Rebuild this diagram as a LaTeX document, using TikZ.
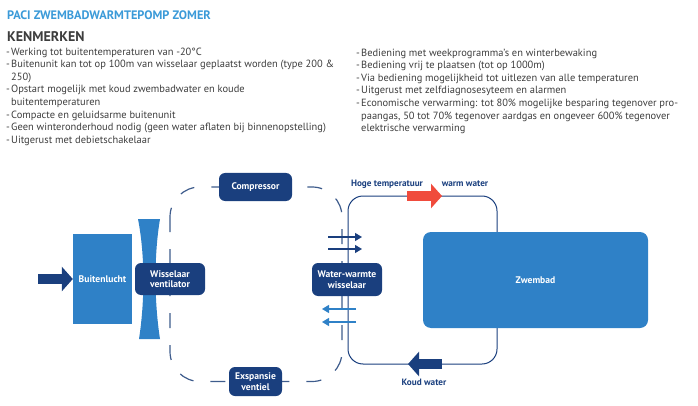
\documentclass[tikz,border=0pt]{standalone}
\usepackage{fontspec}
\setmainfont{PT Sans}
\usetikzlibrary{arrows.meta,positioning,calc,backgrounds}
\definecolor{pacinavy}{HTML}{1A3F7E}
\definecolor{paciblue}{HTML}{2F81C7}
\definecolor{pacilight}{HTML}{3B9AD8}
\definecolor{pacired}{HTML}{F04B3C}
\definecolor{pacigray}{HTML}{3D3D3D}
\definecolor{paciline}{HTML}{3E5C8C}
\newcommand{\itm}{\makebox[5pt][l]{-}}
\newcommand{\cnt}{\hspace*{5pt}}

\begin{document}
\begin{tikzpicture}[x=1pt,y=-1pt,
    unit/.style={fill=pacinavy,text=white,rounded corners=6pt,align=center,inner sep=0pt,font=\bfseries\fontsize{9.6}{10.5}\selectfont},
    pool/.style={fill=paciblue,text=white,inner sep=0pt,font=\bfseries\fontsize{9.6}{10.5}\selectfont},
    lbl/.style={text=pacinavy,inner sep=0pt,font=\bfseries\fontsize{9.2}{10}\selectfont},
    bullets/.style={text=pacigray,align=left,inner sep=0pt,anchor=north west,font=\fontsize{10.45}{12.6}\selectfont},
    koel/.style={paciline,line width=1.2pt,dash pattern=on 15pt off 17pt,rounded corners=30pt},
    water/.style={pacinavy,line width=1pt,rounded corners=15pt},
    flow/.style={line width=9.5pt,-{Triangle[length=11pt,width=24pt]}},
    pijl/.style={line width=1.4pt,-{Triangle[length=7pt,width=8pt]}}]
  \useasboundingbox (0,0) rectangle (698,406);

  \node[anchor=base west,inner sep=0pt,text=pacilight,font=\bfseries\fontsize{12.3}{14}\selectfont] (titel) at (7,20) {PACI ZWEMBADWARMTEPOMP ZOMER};
  \node[anchor=base west,inner sep=0pt,text=pacigray,font=\bfseries\fontsize{14}{16}\selectfont] (kenm) at (7,41.5) {KENMERKEN};

  \node[bullets] (links) at (6,47.5) {%
    \itm Werking tot buitentemperaturen van -20°C\\
    \itm Buitenunit kan tot op 100m van wisselaar geplaatst worden (type 200 \&\\
    \cnt 250)\\
    \itm Opstart mogelijk met koud zwembadwater en koude\\
    \cnt buitentemperaturen\\
    \itm Compacte en geluidsarme buitenunit\\
    \itm Geen winteronderhoud nodig (geen water aflaten bij binnenopstelling)\\
    \itm Uitgerust met debietschakelaar};
  \node[bullets] (rechts) at (356,48.5) {%
    \itm Bediening met weekprogramma's en winterbewaking\\
    \itm Bediening vrij te plaatsen (tot op 1000m)\\
    \itm Via bediening mogelijkheid tot uitlezen van alle temperaturen\\
    \itm Uitgerust met zelfdiagnosesyteem en alarmen\\
    \itm Economische verwarming: tot 80\% mogelijke besparing tegenover pro-\\
    \cnt paangas, 50 tot 70\% tegenover aardgas en ongeveer 600\% tegenover\\
    \cnt elektrische verwarming};

  \node[pool,minimum width=59pt,minimum height=90pt] (buit) at (102.5,279) {Buitenlucht};
  \fill[paciblue] (138,219) .. controls (145,255) and (145,300) .. (139,339)
    -- (160,339) .. controls (154,300) and (154,255) .. (160,219) -- cycle;
  \node[unit,minimum width=70pt,minimum height=32pt] (vent) at (170,279) {Wisselaar\\ventilator};
  \node[unit,minimum width=73pt,minimum height=28pt] (comp) at (255.5,187) {Compressor};
  \node[unit,minimum width=53pt,minimum height=29pt] (exp) at (255.5,381.5) {Exspansie\\ventiel};
  \node[unit,minimum width=70pt,minimum height=33pt] (wwis) at (347,279.5) {Water-warmte\\wisselaar};
  \node[pool,rounded corners=8pt,minimum width=225pt,minimum height=96pt] (zwem) at (535.5,280) {Zwembad};

  \coordinate (wlo) at (348,196);
  \coordinate (wrb) at (497,364);
  \begin{scope}[on background layer]
    \draw[koel] (vent.center |- comp.center) rectangle ($(wwis.center |- exp.center)+(-5,0)$);
    \draw[water] (wlo) rectangle (wrb);
  \end{scope}

  \coordinate (lucht) at (38,279);
  \coordinate (heet0) at (407,196);
  \coordinate (heet1) at (442,196);
  \coordinate (koud0) at (442,364);
  \coordinate (koud1) at (408,364);
  \draw[flow,pacinavy] (lucht) -- (buit.west);
  \draw[flow,pacired] (heet0) -- (heet1);
  \draw[flow,pacinavy] (koud0) -- (koud1);

  \node[lbl] (hoog) at (387,184) {Hoge temperatuur};
  \node[lbl] (warm) at (465,184) {warm water};
  \node[lbl] (koud) at (424,382) {Koud water};

  \foreach \y in {237,249}
    \draw[pijl,pacinavy] (328,\y) -- (362,\y);
  \foreach \y in {309,322}
    \draw[pijl,paciblue] (356,\y) -- (322,\y);
\end{tikzpicture}
\end{document}
